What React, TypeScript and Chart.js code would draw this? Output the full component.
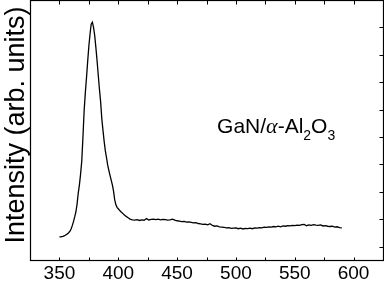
import React, { useEffect, useRef } from "react";
import { Chart, registerables } from "chart.js";

Chart.register(...registerables);

// Wavelength (nm)
const wavelengths = [
  350, 351, 352, 353, 354, 355, 356, 357, 358, 359,
  360, 361, 362, 363, 364, 365, 366, 367, 368, 369,
  370, 371, 372, 373, 374, 375, 376, 377, 378, 379,
  380, 381, 382, 383, 384, 385, 386, 387, 388, 389,
  390, 391, 392, 393, 394, 395, 396, 397, 398, 399,
  400, 401, 402, 403, 404, 405, 406, 407, 408, 409,
  410, 412, 414, 416, 418, 420, 422, 424, 426, 428,
  430, 432, 434, 436, 438, 440, 442, 444, 446, 448,
  450, 452, 454, 456, 458, 460, 462, 464, 466, 468,
  470, 472, 474, 476, 478, 480, 482, 484, 486, 488,
  490, 492, 494, 496, 498, 500, 502, 504, 506, 508,
  510, 512, 514, 516, 518, 520, 522, 524, 526, 528,
  530, 532, 534, 536, 538, 540, 542, 544, 546, 548,
  550, 552, 554, 556, 558, 560, 562, 564, 566, 568,
  570, 572, 574, 576, 578, 580, 582, 584, 586, 588,
  590,
];

// Intensity (arb. units)
const intensities = [
  0.85, 0.85, 0.86, 0.87, 0.89, 0.91, 0.94, 0.97, 1.01, 1.06,
  1.15, 1.27, 1.42, 1.58, 1.76, 2.05, 2.45, 2.75, 3.15, 3.62,
  4.5, 5.45, 6.1, 6.65, 7.25, 7.8, 8.25, 8.62, 8.69, 8.5,
  8.2, 7.76, 7.28, 6.76, 6.25, 5.8, 5.18, 4.75, 4.35, 4.0,
  3.75, 3.48, 3.28, 3.1, 2.92, 2.75, 2.52, 2.2, 2.02, 1.93,
  1.88, 1.83, 1.78, 1.74, 1.7, 1.66, 1.62, 1.59, 1.56, 1.53,
  1.5, 1.47, 1.46, 1.48, 1.45, 1.47, 1.46, 1.52, 1.47, 1.49,
  1.5, 1.48, 1.5, 1.47, 1.49, 1.48, 1.46, 1.47, 1.5, 1.46,
  1.44, 1.43, 1.41, 1.42, 1.39, 1.4, 1.38, 1.36, 1.37, 1.34,
  1.33, 1.31, 1.32, 1.29, 1.33, 1.27, 1.24, 1.25, 1.22, 1.21,
  1.2, 1.18, 1.19, 1.16, 1.17, 1.18, 1.15, 1.17, 1.14, 1.16,
  1.15, 1.17, 1.15, 1.18, 1.17, 1.19, 1.18, 1.21, 1.2, 1.22,
  1.21, 1.23, 1.22, 1.24, 1.22, 1.25, 1.24, 1.26, 1.25, 1.27,
  1.26, 1.28, 1.27, 1.3, 1.31, 1.26, 1.29, 1.27, 1.3, 1.28,
  1.27, 1.29, 1.25, 1.26, 1.24, 1.23, 1.24, 1.21, 1.22, 1.19,
  1.18,
];

const xTickLabels = [350, 400, 450, 500, 550, 600];
const xMinorTicks = [350, 375, 400, 425, 450, 475, 500, 525, 550, 575, 600];
const yTicks = [0.5, 1.5, 2.5, 3.5, 4.5, 5.5, 6.5, 7.5, 8.5];

const yTitle = "Intensity (arb. units)";
const sampleLabel = { pre: "GaN/", alpha: "\u03b1", main: "-Al", sub1: "2", mid: "O", sub2: "3", x: 484, y: 4.65 };

const framePlugin = {
  id: "frame",
  afterDraw(chart: any) {
    const { ctx, chartArea } = chart;
    const xs = chart.scales.x;
    const ys = chart.scales.y;
    const l = Math.round(chartArea.left) + 0.5;
    const r = Math.round(chartArea.right) + 0.5;
    const t = Math.round(chartArea.top) + 0.5;
    const b = Math.round(chartArea.bottom) + 0.5;
    ctx.save();
    ctx.strokeStyle = "#000";
    ctx.lineWidth = 1.2;
    ctx.strokeRect(l, t, r - l, b - t);
    ctx.lineWidth = 1;
    ctx.beginPath();
    for (const v of xMinorTicks) {
      const px = Math.round(xs.getPixelForValue(v)) + 0.5;
      ctx.moveTo(px, t);
      ctx.lineTo(px, t + 4);
      ctx.moveTo(px, b);
      ctx.lineTo(px, b - 3);
    }
    for (const v of yTicks) {
      const py = Math.round(ys.getPixelForValue(v)) + 0.5;
      ctx.moveTo(r, py);
      ctx.lineTo(r - 4, py);
    }
    ctx.stroke();

    // y-axis title
    ctx.fillStyle = "#000";
    ctx.font = "27px 'Liberation Sans', Arial, sans-serif";
    ctx.textAlign = "center";
    ctx.textBaseline = "alphabetic";
    ctx.translate(23.5, 125);
    ctx.rotate(-Math.PI / 2);
    ctx.fillText(yTitle, 0, 0);
    ctx.restore();

    // sample annotation
    ctx.save();
    ctx.fillStyle = "#000";
    ctx.textAlign = "left";
    ctx.textBaseline = "alphabetic";
    let x = xs.getPixelForValue(sampleLabel.x);
    const y = ys.getPixelForValue(sampleLabel.y);
    const big = "21px 'Liberation Sans', Arial, sans-serif";
    const greek = "italic 22px 'Liberation Serif', serif";
    const small = "14px 'Liberation Sans', Arial, sans-serif";
    const parts: [string, string, number][] = [
      [sampleLabel.pre, big, 0],
      [sampleLabel.alpha, greek, 0],
      [sampleLabel.main, big, 0],
      [sampleLabel.sub1, small, 7],
      [sampleLabel.mid, big, 0],
      [sampleLabel.sub2, small, 7],
    ];
    for (const [txt, font, dy] of parts) {
      ctx.font = font;
      ctx.fillText(txt, x, y + dy);
      x += ctx.measureText(txt).width;
    }
    ctx.restore();
  },
};

export default function App() {
  const canvasRef = useRef<HTMLCanvasElement | null>(null);

  useEffect(() => {
    document.body.style.margin = "0";
    const canvas = canvasRef.current;
    if (!canvas) return;
    const data = wavelengths.map((w, i) => ({ x: w, y: intensities[i] }));
    const chart = new Chart(canvas, {
      type: "line",
      data: {
        datasets: [
          {
            data,
            borderColor: "#000",
            borderWidth: 1.3,
            pointRadius: 0,
            tension: 0,
            fill: false,
          },
        ],
      },
      options: {
        animation: false,
        responsive: false,
        maintainAspectRatio: false,
        events: [],
        layout: { padding: { left: 30, right: 1, top: 0, bottom: 0 } },
        plugins: { legend: { display: false }, tooltip: { enabled: false } },
        scales: {
          x: {
            type: "linear",
            min: 325,
            max: 625,
            grid: { display: false, drawTicks: false },
            border: { display: false },
            afterBuildTicks: (scale: any) => {
              scale.ticks = xTickLabels.map((v) => ({ value: v }));
            },
            ticks: {
              color: "#000",
              padding: 5.8,
              maxRotation: 0,
              autoSkip: false,
              font: { family: "'Liberation Sans', Arial, sans-serif", size: 19, lineHeight: 0.8 },
            },
          },
          y: {
            type: "linear",
            min: 0,
            max: 9.5,
            display: false,
          },
        },
      },
      plugins: [framePlugin],
    });
    return () => chart.destroy();
  }, []);

  return (
    <div style={{ position: "absolute", left: 0, top: 0, width: 384, height: 287, background: "#fff" }}>
      <canvas ref={canvasRef} width={384} height={287} />
    </div>
  );
}
